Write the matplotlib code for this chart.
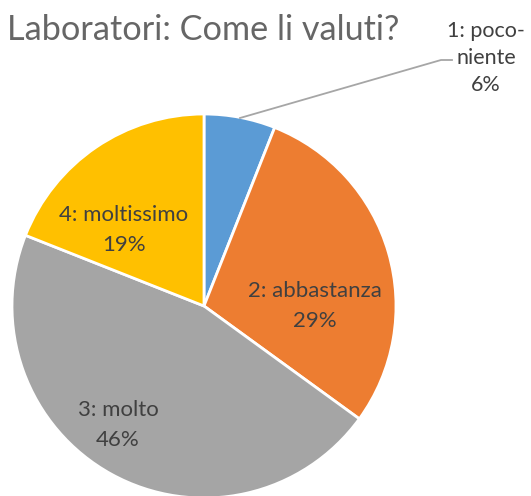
import matplotlib
matplotlib.use('Agg')
import matplotlib.pyplot as plt

plt.rcParams['font.family'] = ['Lato', 'DejaVu Sans']

# Data
categories = ['1: poco-\nniente', '2: abbastanza', '3: molto', '4: moltissimo']
shares = [6, 29, 46, 19]
colors = ['#5B9BD5', '#ED7D31', '#A5A5A5', '#FFC000']

W, H = 531, 496
fig = plt.figure(figsize=(W / 100, H / 100), dpi=100)
ax = fig.add_axes([0, 0, 1, 1])

cx, cy, r = 204, H - 306, 192
ax.pie(shares, colors=colors, startangle=90, counterclock=False,
       center=(cx, cy), radius=r, frame=True,
       wedgeprops=dict(edgecolor='white', linewidth=2))
ax.set_xlim(0, W)
ax.set_ylim(0, H)
ax.set_aspect('equal')
ax.axis('off')

ax.text(7, H - 30, 'Laboratori: Come li valuti?', fontsize=24.7,
        color='#666666', va='center', ha='left')

label_pos = [None, (315, 306), (118, 425), (124, 230)]
for cat, val, pos in zip(categories, shares, label_pos):
    if pos is None:
        continue
    ax.text(pos[0], H - pos[1], f'{cat}\n{val}%', fontsize=16,
            color='#404040', ha='center', va='center', linespacing=1.6)

# outside label for the small slice
ax.plot([240, 441, 452], [H - 118, H - 60, H - 60], color='#A6A6A6', lw=1.3)
ax.text(486, H - 58, f'{categories[0]}\n{shares[0]}%', fontsize=15.5,
        color='#404040', ha='center', va='center', linespacing=1.45)

fig.savefig('out.png', dpi=100)
